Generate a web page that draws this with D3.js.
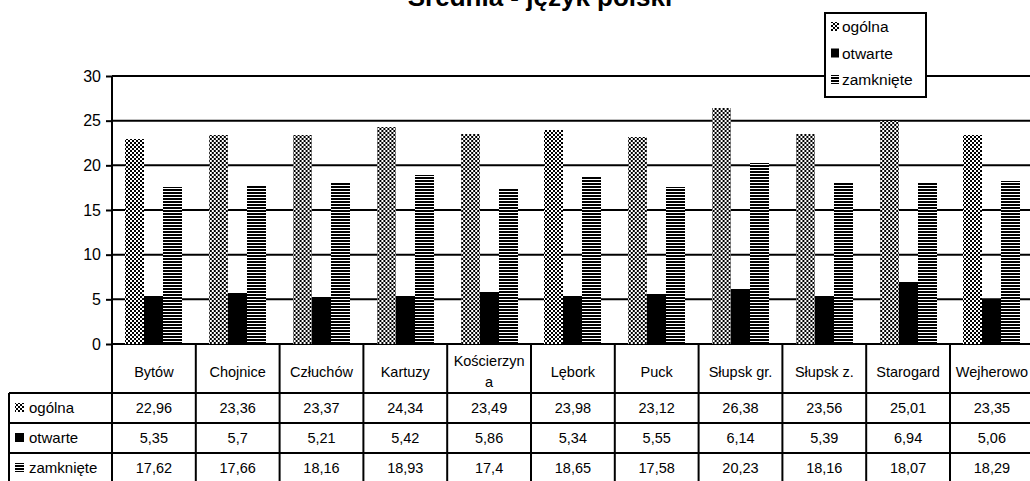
<!DOCTYPE html>
<html lang="pl">
<head>
    <meta charset="UTF-8">
    <title>Średnia - język polski</title>

    <style>
        * {
            margin: 0;
            padding: 0;
        }

        body {
            background: #ffffff;
            overflow: hidden;
        }

        #chart text {
            font-family: "Liberation Sans", Arial, sans-serif;
            fill: #000000;
        }
    </style>
</head>
<body>

<div id="chart"></div>

<script src="https://d3js.org/d3.v7.min.js"></script>

<script type="application/javascript">

    "use strict";

    // data

    var categories = ['Bytów', 'Chojnice', 'Człuchów', 'Kartuzy', 'Kościerzyna', 'Lębork',
        'Puck', 'Słupsk gr.', 'Słupsk z.', 'Starogard', 'Wejherowo'];

    var categoryLines = [['Bytów'], ['Chojnice'], ['Człuchów'], ['Kartuzy'], ['Kościerzyn', 'a'], ['Lębork'],
        ['Puck'], ['Słupsk gr.'], ['Słupsk z.'], ['Starogard'], ['Wejherowo']];

    var seriesNames = ['ogólna', 'otwarte', 'zamknięte'];

    var ogolna = [22.96, 23.36, 23.37, 24.34, 23.49, 23.98, 23.12, 26.38, 23.56, 25.01, 23.35];

    var otwarte = [5.35, 5.7, 5.21, 5.42, 5.86, 5.34, 5.55, 6.14, 5.39, 6.94, 5.06];

    var zamkniete = [17.62, 17.66, 18.16, 18.93, 17.4, 18.65, 17.58, 20.23, 18.16, 18.07, 18.29];

    var yTicks = [0, 5, 10, 15, 20, 25, 30];

    var title = 'Średnia - język polski';

    (function() {

        var width = 1030,

            height = 481;

        var plot = {
            left: 112,
            top: 76,
            bottom: 344,
            step: 83.8
        };

        var table = {
            left: 9,
            headerBottom: 393,
            rowHeight: 30
        };

        var series = [ogolna, otwarte, zamkniete];

        var fills = ['url(#pat-ogolna)', '#000000', 'url(#pat-zamkniete)'];

        var svg = d3.select('#chart')
            .append('svg')
            .attr('width', width)
            .attr('height', height);

        // fill patterns for the black and white bars

        var defs = svg.append('defs');

        var pOg = defs.append('pattern')
            .attr('id', 'pat-ogolna')
            .attr('patternUnits', 'userSpaceOnUse')
            .attr('width', 4)
            .attr('height', 4);
        pOg.append('rect').attr('width', 4).attr('height', 4).attr('fill', '#fff');
        pOg.append('rect').attr('width', 2).attr('height', 2).attr('fill', '#000');
        pOg.append('rect').attr('x', 2).attr('y', 2).attr('width', 2).attr('height', 2).attr('fill', '#000');

        var pZa = defs.append('pattern')
            .attr('id', 'pat-zamkniete')
            .attr('patternUnits', 'userSpaceOnUse')
            .attr('width', 6)
            .attr('height', 3);
        pZa.append('rect').attr('width', 6).attr('height', 3).attr('fill', '#fff');
        pZa.append('rect').attr('width', 6).attr('height', 2).attr('fill', '#000');

        // scales

        var x0 = d3.scaleBand()
            .domain(categories)
            .range([plot.left, plot.left + plot.step * categories.length])
            .padding(0);

        var x1 = d3.scaleBand()
            .domain(seriesNames)
            .range([0, x0.bandwidth()])
            .paddingInner(0)
            .paddingOuter(0.705);

        var y = d3.scaleLinear()
            .domain([0, 30])
            .range([plot.bottom, plot.top]);

        var right = x0.range()[1];

        // title (cut at the top edge, as in the scan)

        svg.append('text')
            .attr('x', 540)
            .attr('y', 6)
            .attr('text-anchor', 'middle')
            .style('font-size', '26px')
            .style('font-weight', 'bold')
            .text(title);

        // gridlines

        svg.append('g')
            .selectAll('line')
            .data(yTicks)
            .enter()
            .append('line')
            .attr('x1', plot.left)
            .attr('x2', right)
            .attr('y1', function(d) { return y(d); })
            .attr('y2', function(d) { return y(d); })
            .attr('stroke', '#000')
            .attr('stroke-width', 2);

        // bars

        var groups = svg.append('g')
            .selectAll('g')
            .data(categories)
            .enter()
            .append('g')
            .attr('transform', function(d) { return 'translate(' + x0(d) + ',0)'; });

        groups.selectAll('rect')
            .data(function(d, i) {
                return seriesNames.map(function(s, k) {
                    return { key: s, value: series[k][i], k: k };
                });
            })
            .enter()
            .append('rect')
            .attr('x', function(d) { return x1(d.key); })
            .attr('width', x1.bandwidth())
            .attr('y', function(d) { return y(d.value); })
            .attr('height', function(d) { return y(0) - y(d.value); })
            .attr('fill', function(d) { return fills[d.k]; })
            .attr('shape-rendering', 'crispEdges');

        // y axis

        var yAxis = d3.axisLeft(y)
            .tickValues(yTicks)
            .tickSize(6)
            .tickPadding(5);

        var gy = svg.append('g')
            .attr('transform', 'translate(' + plot.left + ',0)')
            .call(yAxis);

        gy.select('.domain').remove();
        gy.selectAll('.tick line').attr('stroke', '#000').attr('stroke-width', 2);
        gy.selectAll('.tick text')
            .style('font-size', '16px')
            .attr('font-family', null);

        // data table under the plot

        var rowTop = function(k) { return table.headerBottom + k * table.rowHeight; };

        var tg = svg.append('g');

        // header row with category names
        tg.selectAll('.cat')
            .data(categories)
            .enter()
            .append('text')
            .attr('class', 'cat')
            .attr('text-anchor', 'middle')
            .style('font-size', '14.5px')
            .each(function(d, i) {
                var lines = categoryLines[i];
                var el = d3.select(this);
                var cy = (plot.bottom + table.headerBottom) / 2 + 8 - (lines.length - 1) * 10.5;
                lines.forEach(function(l, j) {
                    el.append('tspan')
                        .attr('x', x0(d) + x0.bandwidth() / 2)
                        .attr('y', cy + j * 21)
                        .text(l);
                });
            });

        // value cells
        seriesNames.forEach(function(s, k) {

            tg.append('g')
                .selectAll('text')
                .data(series[k])
                .enter()
                .append('text')
                .attr('x', function(d, i) { return x0(categories[i]) + x0.bandwidth() / 2; })
                .attr('y', rowTop(k) + 20)
                .attr('text-anchor', 'middle')
                .style('font-size', '14.5px')
                .text(function(d) { return String(d).replace('.', ','); });

            // row label with its legend key
            tg.append('text')
                .attr('x', 29)
                .attr('y', rowTop(k) + 20)
                .style('font-size', '15px')
                .text(s);

            tg.append('rect')
                .attr('x', 15)
                .attr('y', rowTop(k) + 10)
                .attr('width', 9)
                .attr('height', 9)
                .attr('fill', fills[k]);
        });

        // table grid
        var hLines = [0, 1, 2, 3].map(function(k) { return rowTop(k); });

        tg.selectAll('.hl')
            .data(hLines)
            .enter()
            .append('line')
            .attr('x1', table.left)
            .attr('x2', right)
            .attr('y1', function(d) { return d; })
            .attr('y2', function(d) { return d; })
            .attr('stroke', '#000')
            .attr('stroke-width', 2);

        var boundaries = categories.map(function(c) { return x0(c); }).concat([right]);

        tg.selectAll('.vl')
            .data(boundaries)
            .enter()
            .append('line')
            .attr('x1', function(d) { return d; })
            .attr('x2', function(d) { return d; })
            .attr('y1', function(d, i) { return i === 0 ? plot.top : plot.bottom; })
            .attr('y2', height)
            .attr('stroke', '#000')
            .attr('stroke-width', 2);

        tg.append('line')
            .attr('x1', table.left)
            .attr('x2', table.left)
            .attr('y1', table.headerBottom)
            .attr('y2', height)
            .attr('stroke', '#000')
            .attr('stroke-width', 2);

        // legend box

        var lg = svg.append('g')
            .attr('transform', 'translate(825,13)');

        lg.append('rect')
            .attr('width', 101)
            .attr('height', 84)
            .attr('fill', '#fff')
            .attr('stroke', '#000')
            .attr('stroke-width', 2);

        var items = lg.selectAll('.item')
            .data(seriesNames)
            .enter()
            .append('g')
            .attr('transform', function(d, i) { return 'translate(0,' + (14 + i * 26.5) + ')'; });

        items.append('rect')
            .attr('x', 6)
            .attr('y', -5)
            .attr('width', 8)
            .attr('height', 9)
            .attr('fill', function(d, i) { return fills[i]; });

        items.append('text')
            .attr('x', 17)
            .attr('y', 5)
            .style('font-size', '15.5px')
            .text(function(d) { return d; });

    })();

</script>
</body>
</html>
